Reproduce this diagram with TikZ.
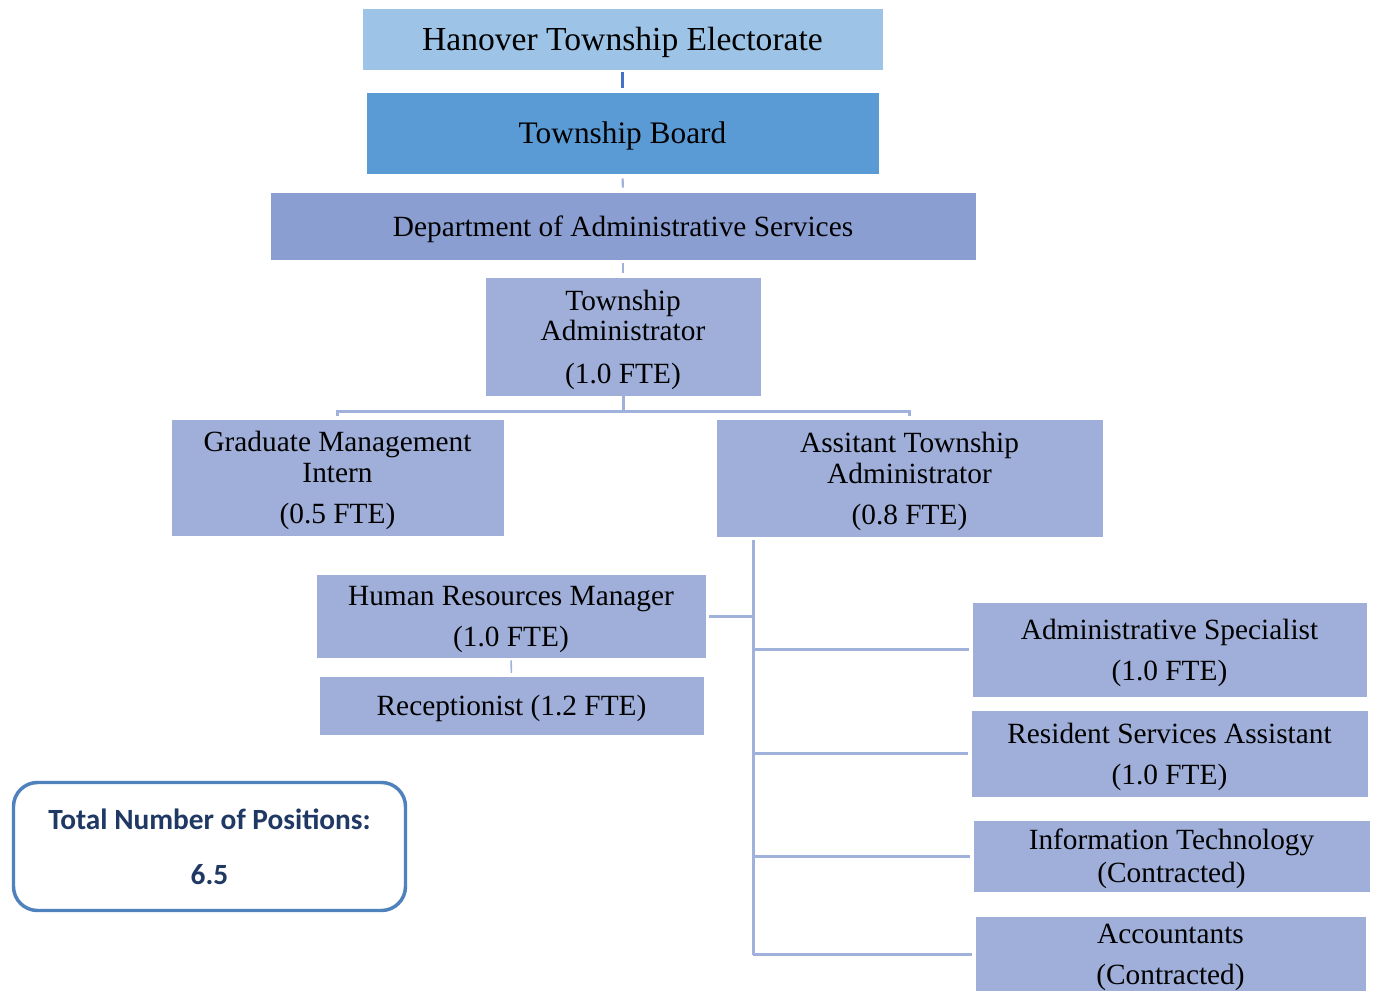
\documentclass[tikz,border=0pt]{standalone}
\usepackage{fontspec}
\setmainfont{Liberation Serif}
\newfontfamily\calib{Carlito}
\definecolor{elecfill}{HTML}{9DC3E6}
\definecolor{boardfill}{HTML}{5B9BD5}
\definecolor{deptfill}{HTML}{8B9ED1}
\definecolor{posfill}{HTML}{9FAFD9}
\definecolor{connc}{HTML}{A0B1DB}
\definecolor{topconn}{HTML}{4472C4}
\definecolor{totborder}{HTML}{4F81BD}
\definecolor{tottext}{HTML}{1F3864}
\tikzset{
  sz/.style 2 args={minimum width=#1*0.75pt, minimum height=#2*0.75pt},
  posbox/.style={rectangle, fill=posfill, draw=white, line width=0.6pt, inner sep=0pt, align=center, text=black, text depth=0pt, font=\fontsize{22}{23}\selectfont},
  conn/.style={draw=connc, line width=2.25pt},
  thinconn/.style={draw=connc, line width=1.2pt},
}
\begin{document}
\begin{tikzpicture}[x=0.75pt,y=-0.75pt]
\useasboundingbox (0,0) rectangle (1374,991);
% top chain
\node[posbox, fill=elecfill, sz={521}{62}, font=\fontsize{25.2}{26}\selectfont] (elec) at (622.5,39) {Hanover Township Electorate};
\node[posbox, fill=boardfill, sz={513}{82}, font=\fontsize{23.5}{25}\selectfont] (board) at (622.5,133) {Township Board};
\node[posbox, fill=deptfill, sz={706}{68}] (dept) at (623,226) {Department of Administrative Services};
\node[posbox, sz={276}{119}] (ta) at (623,336.5) {Township\\Administrator\\[9pt](1.0 FTE)};
% second level
\node[posbox, sz={333}{117}] (gmi) at (337.5,477.5) {Graduate Management\\Intern\\[7.75pt](0.5 FTE)};
\node[posbox, sz={387}{118}] (ata) at (909.5,478) {Assitant Township\\Administrator\\[7.75pt](0.8 FTE)};
% left branch
\node[posbox, sz={390}{84}] (hr) at (511,616) {Human Resources Manager\\[7.75pt](1.0 FTE)};
\node[posbox, sz={385}{59}] (rec) at (511.5,705.5) {Receptionist (1.2 FTE)};
% right branch
\node[posbox, sz={395}{95}] (as) at (1169.5,649.5) {Administrative Specialist\\[7.75pt](1.0 FTE)};
\node[posbox, sz={397}{87}] (rsa) at (1169.5,753.5) {Resident Services Assistant\\[7.75pt](1.0 FTE)};
\node[posbox, sz={397}{72}] (it) at (1171.5,856) {Information Technology\\[1.75pt](Contracted)};
\node[posbox, sz={391}{77}] (acc) at (1170.5,954.5) {Accountants\\[7.75pt](Contracted)};
% total
\node[rectangle, rounded corners=18pt, draw=totborder, line width=2.6pt, fill=white, sz={392}{128}, align=center, text=tottext, font=\calib\bfseries\fontsize{22}{23}\selectfont] (tot) at (209.5,846.5) {Total Number of Positions:\\[18pt]6.5};
% connectors
\draw[draw=topconn, line width=1.6pt, shorten <=1.5pt, shorten >=3pt] (elec.south) -- (board.north);
\draw[draw=connc, line width=1.6pt, shorten <=3pt, shorten >=3pt] (board.south) -- (dept.north);
\draw[draw=connc, line width=1.6pt, shorten <=2.2pt, shorten >=3pt] (dept.south) -- (ta.north);
\coordinate (bus) at (623,411);
\draw[conn] ([yshift=1.5pt]ta.south) -- (bus);
\draw[conn] ([yshift=2.25pt]gmi.north) |- (bus) -| ([yshift=2.25pt]ata.north);
\coordinate (spt) at (753,540);
\coordinate (spb) at (753,955);
\draw[conn] (spt) -- (spb);
\draw[conn] ([xshift=2.25pt]hr.east) -- (hr.east -| spt);
\draw[conn] ([xshift=-2.25pt]as.west) -- (as.west -| spt);
\draw[conn] ([xshift=-2.25pt]rsa.west) -- (rsa.west -| spt);
\draw[conn] ([xshift=-2.25pt]it.west) -- (it.west -| spt);
\draw[conn] ([xshift=-2.25pt]acc.west) -- (acc.west -| spt);
\draw[thinconn, shorten <=1.5pt, shorten >=2pt] (hr.south) -- (rec.north);
\end{tikzpicture}
\end{document}
